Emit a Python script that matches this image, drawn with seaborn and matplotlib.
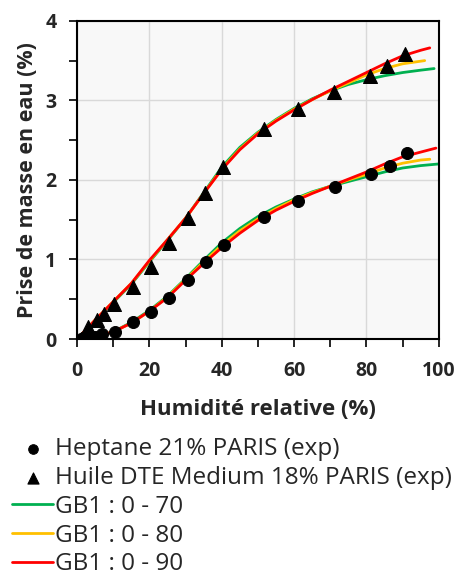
import numpy as np
import matplotlib
matplotlib.use("Agg")
import matplotlib.pyplot as plt
import seaborn as sns
from matplotlib.ticker import MultipleLocator

# experimental points
hep_x = [1, 3, 5, 7, 10.5, 15.4, 20.3, 25.4, 30.6, 35.6, 40.6, 51.7, 61.1, 71.3, 81.2, 86.5, 91.1]
hep_y = [0.0, 0.02, 0.03, 0.06, 0.09, 0.21, 0.34, 0.52, 0.74, 0.97, 1.18, 1.53, 1.73, 1.91, 2.08, 2.18, 2.34]
oil_x = [1, 3.1, 5.4, 7.3, 10.3, 15.4, 20.3, 25.4, 30.6, 35.4, 40.2, 51.7, 61.0, 71.1, 81.0, 85.8, 90.7]
oil_y = [0.0, 0.15, 0.24, 0.32, 0.44, 0.66, 0.90, 1.21, 1.52, 1.83, 2.16, 2.64, 2.89, 3.11, 3.31, 3.43, 3.58]

# GB1 model curves, heptane
hep70_x = [0, 5, 10, 15, 20, 25, 30, 35, 40, 45, 50, 55, 60, 65, 70, 75, 80, 85, 90, 95, 99.8]
hep70_y = [0, 0.03, 0.09, 0.21, 0.36, 0.54, 0.76, 0.99, 1.21, 1.39, 1.54, 1.66, 1.76, 1.85, 1.92, 1.98, 2.04, 2.10, 2.15, 2.18, 2.20]
hep80_x = [0, 5, 10, 15, 20, 25, 30, 35, 40, 45, 50, 55, 60, 65, 70, 75, 80, 85, 90, 95, 97.5]
hep80_y = [0, 0.03, 0.09, 0.2, 0.35, 0.53, 0.75, 0.97, 1.18, 1.36, 1.51, 1.64, 1.75, 1.84, 1.92, 2.00, 2.07, 2.15, 2.21, 2.25, 2.26]
hep90_x = [0, 5, 10, 15, 20, 25, 30, 35, 40, 45, 50, 55, 60, 65, 70, 75, 80, 85, 90, 95, 99.2]
hep90_y = [0, 0.03, 0.09, 0.2, 0.35, 0.52, 0.74, 0.95, 1.15, 1.33, 1.49, 1.62, 1.73, 1.83, 1.92, 2.01, 2.10, 2.20, 2.29, 2.35, 2.40]

# GB1 model curves, oil
oil70_x = [0, 5, 10, 15, 20, 25, 30, 35, 40, 45, 50, 55, 60, 65, 70, 75, 80, 85, 90, 95, 98.7]
oil70_y = [0, 0.23, 0.46, 0.69, 0.97, 1.24, 1.52, 1.84, 2.16, 2.41, 2.6, 2.76, 2.90, 3.02, 3.12, 3.20, 3.26, 3.31, 3.35, 3.38, 3.40]
oil80_x = [0, 5, 10, 15, 20, 25, 30, 35, 40, 45, 50, 55, 60, 65, 70, 75, 80, 85, 90, 96.1]
oil80_y = [0, 0.24, 0.47, 0.7, 0.98, 1.25, 1.52, 1.83, 2.14, 2.39, 2.59, 2.75, 2.89, 3.01, 3.12, 3.22, 3.32, 3.40, 3.46, 3.50]
oil90_x = [0, 5, 10, 15, 20, 25, 30, 35, 40, 45, 50, 55, 60, 65, 70, 75, 80, 85, 90, 95, 97.5]
oil90_y = [0, 0.24, 0.47, 0.7, 0.99, 1.25, 1.52, 1.83, 2.13, 2.38, 2.58, 2.74, 2.88, 3.01, 3.13, 3.24, 3.35, 3.46, 3.56, 3.63, 3.66]

sns.set_style("ticks")
plt.rcParams["font.family"] = ["Open Sans", "DejaVu Sans"]

fig = plt.figure(figsize=(4.59, 5.79), dpi=100)
ax = fig.add_axes([0.168, 0.4145, 0.788, 0.5495])
ax.set_facecolor("#f8f8f8")

green, yellow, red = "#00b050", "#ffc000", "#ff0000"
for xs, ys, c, lab in [(hep70_x, hep70_y, green, "GB1 : 0 - 70"),
                       (hep80_x, hep80_y, yellow, "GB1 : 0 - 80"),
                       (hep90_x, hep90_y, red, "GB1 : 0 - 90")]:
    sns.lineplot(x=xs, y=ys, color=c, lw=2, ax=ax, label=lab, sort=False)
for xs, ys, c in [(oil70_x, oil70_y, green), (oil80_x, oil80_y, yellow), (oil90_x, oil90_y, red)]:
    sns.lineplot(x=xs, y=ys, color=c, lw=2, ax=ax, sort=False)

sns.scatterplot(x=hep_x, y=hep_y, marker="o", s=75, color="black", edgecolor="black",
                ax=ax, label="Heptane 21% PARIS (exp)", zorder=5)
sns.scatterplot(x=oil_x, y=oil_y, marker="^", s=100, color="black", edgecolor="black",
                ax=ax, label="Huile DTE Medium 18% PARIS (exp)", zorder=5)

ax.set_xlim(0, 100)
ax.set_ylim(0, 4)
ax.xaxis.set_major_locator(MultipleLocator(20))
ax.xaxis.set_minor_locator(MultipleLocator(10))
ax.yaxis.set_major_locator(MultipleLocator(1))
ax.yaxis.set_minor_locator(MultipleLocator(0.5))
ax.grid(True, which="major", color="#d9d9d9", lw=1)
ax.tick_params(which="both", direction="out", length=6, width=1.2, color="black")
ax.tick_params(axis="x", pad=10)
ax.tick_params(axis="y", pad=9)
ax.tick_params(labelsize=14)
for t in ax.get_xticklabels() + ax.get_yticklabels():
    t.set_fontweight("bold")
for s in ax.spines.values():
    s.set_color("black")
    s.set_linewidth(1.5)

ax.set_xlabel("Humidité relative (%)", fontsize=16, fontweight="bold", labelpad=13)
ax.set_ylabel("Prise de masse en eau (%)", fontsize=15.5, fontweight="bold", labelpad=5)

handles, labels = ax.get_legend_handles_labels()
order = [3, 4, 0, 1, 2]
ax.get_legend().remove()
fig.legend([handles[i] for i in order], [labels[i] for i in order],
           loc="upper left", bbox_to_anchor=(0.006, 0.262), frameon=False,
           fontsize=17.5, handlelength=1.65, handletextpad=0.1, labelspacing=0.2,
           borderaxespad=0, markerscale=0.8)

fig.savefig("out.png", dpi=100)
